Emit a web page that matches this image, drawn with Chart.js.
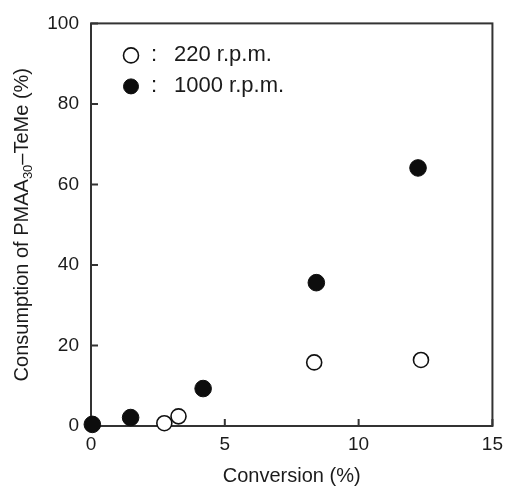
<!DOCTYPE html>
<html>
<head>
<meta charset="utf-8">
<script src="https://cdn.jsdelivr.net/npm/chart.js@4/dist/chart.umd.min.js"></script>
<style>
  html, body { margin: 0; padding: 0; background: #fff; }
  #wrap { width: 510px; height: 487px; }
</style>
</head>
<body>
<div id="wrap"><canvas id="Chart1" width="510" height="487"></canvas></div>
<script>
// conversion (%) vs consumption (%)
const conv_220 = [2.74, 3.27, 8.34, 12.33];
const cons_220 = [0.7, 2.4, 15.8, 16.4];
const conv_1000 = [0.05, 1.48, 4.19, 8.42, 12.22];
const cons_1000 = [0.4, 2.1, 9.3, 35.6, 64.1];

const legend_labels = ['220 r.p.m.', '1000 r.p.m.'];
const x_ticks = [0, 5, 10, 15];
const y_ticks = [0, 20, 40, 60, 80, 100];
const x_title = 'Conversion (%)';
// [text, is subscript]
const y_title_parts = [['Consumption of PMAA', false], ['30', true], ['\u2013TeMe (%)', false]];

const FONT = "'Liberation Sans', Arial, sans-serif";
const INK = '#1b1b1b';

function to_points(xs, ys) {
    return xs.map((x, i) => ({x: x, y: ys[i]}));
}

const frame_plugin = {
    id: 'frame',
    beforeDatasetsDraw(chart) {
        let ctx = chart.ctx;
        let a = chart.chartArea;
        let xs = chart.scales.x, ys = chart.scales.y;
        ctx.save();
        ctx.strokeStyle = '#333';
        ctx.lineWidth = 2;
        ctx.strokeRect(a.left, a.top, a.right - a.left, a.bottom - a.top);
        // ticks point inward
        ctx.beginPath();
        x_ticks.forEach(v => {
            let px = xs.getPixelForValue(v);
            ctx.moveTo(px, a.bottom);
            ctx.lineTo(px, a.bottom - 7);
        });
        y_ticks.forEach(v => {
            let py = ys.getPixelForValue(v);
            ctx.moveTo(a.left, py);
            ctx.lineTo(a.left + 7, py);
        });
        ctx.stroke();
        ctx.restore();
    },
    afterDraw(chart) {
        let ctx = chart.ctx;
        let a = chart.chartArea;
        ctx.save();

        // y title with subscript
        ctx.translate(22, (a.top + a.bottom) / 2);
        ctx.rotate(-Math.PI / 2);
        ctx.fillStyle = INK;
        ctx.textBaseline = 'middle';
        let total = 0;
        y_title_parts.forEach(([t, sub]) => {
            ctx.font = (sub ? '13px ' : '20px ') + FONT;
            total += ctx.measureText(t).width;
        });
        let x = -total / 2;
        y_title_parts.forEach(([t, sub]) => {
            ctx.font = (sub ? '13px ' : '20px ') + FONT;
            ctx.fillText(t, x, sub ? 6 : 0);
            x += ctx.measureText(t).width;
        });
        ctx.restore();

        // legend inside plot
        ctx.save();
        chart.data.datasets.forEach((ds, i) => {
            let cy = a.top + 32 + i * 31;
            let cx = a.left + 40;
            ctx.beginPath();
            ctx.arc(cx, cy, 7.5, 0, Math.PI * 2);
            ctx.fillStyle = ds.backgroundColor;
            ctx.fill();
            ctx.lineWidth = ds.borderWidth;
            ctx.strokeStyle = ds.borderColor;
            ctx.stroke();
            ctx.fillStyle = INK;
            ctx.font = '22px ' + FONT;
            ctx.textBaseline = 'middle';
            ctx.fillText(':', cx + 20, cy);
            ctx.fillText(legend_labels[i], cx + 43, cy);
        });
        ctx.restore();
    }
};

let data = {
    datasets: [{
        label: legend_labels[0],
        data: to_points(conv_220, cons_220),
        backgroundColor: '#ffffff',
        borderColor: '#111',
        borderWidth: 1.6,
        pointRadius: 7.5,
        clip: false
    }, {
        label: legend_labels[1],
        data: to_points(conv_1000, cons_1000),
        backgroundColor: '#0d0d0d',
        borderColor: '#0d0d0d',
        borderWidth: 1,
        pointRadius: 8.3,
        clip: false
    }]
};

let config = {
    type: 'scatter',
    data: data,
    options: {
        responsive: false,
        animation: false,
        events: [],
        layout: {padding: {top: 22, right: 14, left: 0, bottom: 0}},
        plugins: {
            legend: {display: false},
            tooltip: {enabled: false}
        },
        scales: {
            x: {
                type: 'linear',
                min: 0, max: 15,
                afterBuildTicks: s => { s.ticks = x_ticks.map(v => ({value: v})); },
                afterFit: s => { s.height = 61; },
                grid: {display: false, drawTicks: false},
                border: {display: false},
                ticks: {color: INK, padding: 7, font: {family: FONT, size: 19}},
                title: {display: true, text: x_title, color: INK, padding: {top: 0, bottom: -1}, font: {family: FONT, size: 20}}
            },
            y: {
                type: 'linear',
                min: 0, max: 100,
                afterBuildTicks: s => { s.ticks = y_ticks.map(v => ({value: v})); },
                afterFit: s => { s.width = 91; },
                grid: {display: false, drawTicks: false},
                border: {display: false},
                ticks: {color: INK, padding: 12, font: {family: FONT, size: 19}}
            }
        }
    },
    plugins: [frame_plugin]
};

new Chart(document.getElementById('Chart1'), config);
</script>
</body>
</html>
